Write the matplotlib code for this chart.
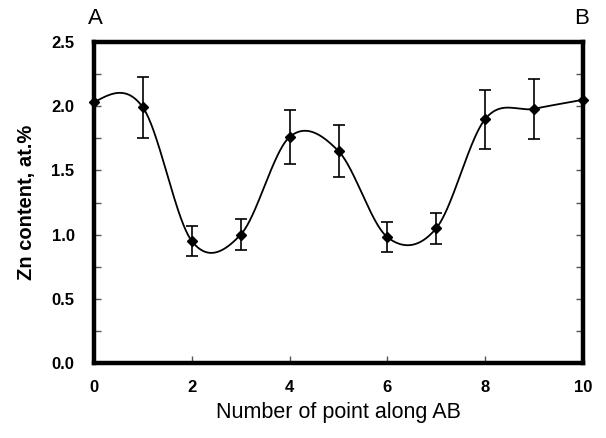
import numpy as np
import matplotlib
matplotlib.use("Agg")
import matplotlib.pyplot as plt
from matplotlib.ticker import MultipleLocator

# Data
points = [0, 1, 2, 3, 4, 5, 6, 7, 8, 9, 10]
zn = [2.03, 1.99, 0.95, 1.00, 1.76, 1.65, 0.98, 1.05, 1.90, 1.98, 2.05]
err = [0.0, 0.24, 0.115, 0.12, 0.21, 0.20, 0.115, 0.12, 0.23, 0.235, 0.0]
xticks = [0, 2, 4, 6, 8, 10]
yticks = [0.0, 0.5, 1.0, 1.5, 2.0, 2.5]


def smooth_curve(x, y, xs):
    # Catmull-Rom style Hermite curve with natural end tangents
    x = np.asarray(x, float); y = np.asarray(y, float)
    n = len(x)
    m = np.zeros(n)
    for i in range(1, n - 1):
        m[i] = (y[i + 1] - y[i - 1]) / (x[i + 1] - x[i - 1])
    d0 = (y[1] - y[0]) / (x[1] - x[0])
    dn = (y[-1] - y[-2]) / (x[-1] - x[-2])
    m[0] = (3 * d0 - m[1]) / 2
    m[-1] = (3 * dn - m[-2]) / 2
    idx = np.clip(np.searchsorted(x, xs) - 1, 0, n - 2)
    h = x[idx + 1] - x[idx]
    t = (xs - x[idx]) / h
    h00 = 2 * t**3 - 3 * t**2 + 1
    h10 = t**3 - 2 * t**2 + t
    h01 = -2 * t**3 + 3 * t**2
    h11 = t**3 - t**2
    return h00 * y[idx] + h10 * h * m[idx] + h01 * y[idx + 1] + h11 * h * m[idx + 1]


plt.rcParams['font.family'] = ['Liberation Sans', 'DejaVu Sans']

fig = plt.figure(figsize=(6.06, 4.38), dpi=100)
ax = fig.add_axes([94 / 606, 75 / 438, (583 - 94) / 606, (363 - 42) / 438])

xs = np.linspace(points[0], points[-1], 800)
ax.plot(xs, smooth_curve(points, zn, xs), color='black', lw=1.3, zorder=2)

px = [p for p, e in zip(points, err) if e > 0]
py = [v for v, e in zip(zn, err) if e > 0]
pe = [e for e in err if e > 0]
ax.errorbar(px, py, yerr=pe, fmt='none', ecolor='black', elinewidth=1.2,
            capsize=4, capthick=1.2, zorder=3)
ax.plot(points, zn, linestyle='none', marker='D', markersize=5.5,
        color='black', zorder=4, clip_on=False)

ax.set_xlim(0, 10)
ax.set_ylim(0, 2.5)
ax.set_xticks(xticks)
ax.set_yticks(yticks)
ax.set_xticklabels([str(t) for t in xticks], fontweight='bold', fontsize=12)
ax.set_yticklabels([f"{t:.1f}" for t in yticks], fontweight='bold', fontsize=12)
ax.yaxis.set_minor_locator(MultipleLocator(0.25))

ax.tick_params(axis='both', which='both', direction='in', width=1, color='#555555')
ax.tick_params(axis='y', which='both', right=True, length=5, pad=14)
ax.tick_params(axis='x', which='major', length=5, pad=12)

for s in ax.spines.values():
    s.set_linewidth(3.2)

ax.set_xlabel('Number of point along AB', fontsize=15.5, labelpad=5)
ax.set_ylabel('Zn content, at.%', fontsize=14.5, fontweight='bold', labelpad=11)

fig.text(95 / 606, 1 - 19 / 438, 'A', fontsize=16, ha='center', va='center')
fig.text(582 / 606, 1 - 18 / 438, 'B', fontsize=16, ha='center', va='center')

fig.savefig('out.png', dpi=100)
